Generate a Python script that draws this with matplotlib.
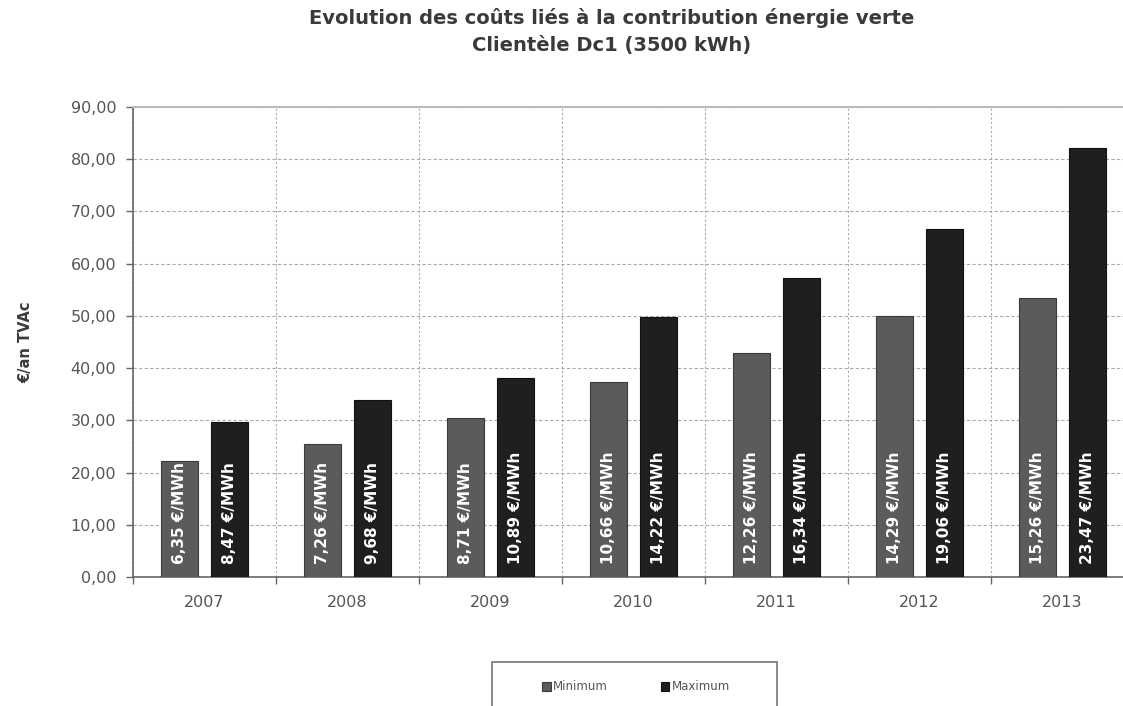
import matplotlib.pyplot as plt
import matplotlib.patches as mpatches
from matplotlib.ticker import FixedLocator, FuncFormatter
import numpy as np

plt.rcParams['font.family'] = ['DejaVu Sans']

years = ['2007', '2008', '2009', '2010', '2011', '2012', '2013']
cost_min = [22.2, 25.4, 30.5, 37.3, 42.9, 50.0, 53.4]
cost_max = [29.6, 33.9, 38.1, 49.8, 57.2, 66.7, 82.1]
price_min = ['6,35', '7,26', '8,71', '10,66', '12,26', '14,29', '15,26']
price_max = ['8,47', '9,68', '10,89', '14,22', '16,34', '19,06', '23,47']

c_min = '#5b5b5b'
c_max = '#1f1f1f'

fig = plt.figure(figsize=(11.23, 7.06), dpi=100)
ax = fig.add_axes([133/1123, 129/706, 1001/1123, 470/706])

x = np.arange(len(years))
w = 0.26
off = 0.175
b1 = ax.bar(x - off, cost_min, w, color=c_min, edgecolor='#3a3a3a', linewidth=0.8, label='Minimum', zorder=3)
b2 = ax.bar(x + off, cost_max, w, color=c_max, edgecolor='#111111', linewidth=0.8, label='Maximum', zorder=3)

for xi, p in zip(x - off, price_min):
    ax.annotate(p + ' €/MWh', (xi, 0), xytext=(0, 9), textcoords='offset points',
                rotation=90, ha='center', va='bottom', color='white',
                fontsize=11, fontweight='bold', zorder=4)
for xi, p in zip(x + off, price_max):
    ax.annotate(p + ' €/MWh', (xi, 0), xytext=(0, 9), textcoords='offset points',
                rotation=90, ha='center', va='bottom', color='white',
                fontsize=11, fontweight='bold', zorder=4)

ax.set_xlim(-0.5, 6.5)
ax.set_ylim(0, 90)
ax.set_yticks(np.arange(0, 91, 10))
ax.yaxis.set_major_formatter(FuncFormatter(lambda v, p: f'{v:.2f}'.replace('.', ',')))
ax.set_xticks(x)
ax.set_xticklabels(years)
ax.xaxis.set_minor_locator(FixedLocator(np.arange(-0.5, 7, 1)))
ax.tick_params(axis='x', which='major', length=0, pad=13, labelsize=11.5, labelcolor='#555555')
ax.tick_params(axis='x', which='minor', length=5, width=1, color='#666666', direction='out')
ax.tick_params(axis='y', length=5, width=1, color='#666666', labelsize=11.5, labelcolor='#555555', pad=7)

ax.grid(axis='y', which='major', linestyle=(0, (3, 2)), color='#aaaaaa', linewidth=0.8, zorder=0)
ax.grid(axis='x', which='minor', linestyle=(0, (2, 2)), color='#aaaaaa', linewidth=0.8, zorder=0)
ax.grid(axis='x', which='major', visible=False)

ax.spines['right'].set_visible(False)
ax.spines['top'].set_color('#bbbbbb')
ax.spines['top'].set_linewidth(1.5)
ax.spines['left'].set_color('#666666')
ax.spines['left'].set_linewidth(1.2)
ax.spines['bottom'].set_color('#666666')
ax.spines['bottom'].set_linewidth(1.2)

ax.set_ylabel('€/an TVAc', fontsize=10.5, fontweight='bold', color='#3a3a3a', labelpad=27)

fig.text(612/1123, 1 - 18/706, 'Evolution des coûts liés à la contribution énergie verte',
         ha='center', va='center', fontsize=14, fontweight='bold', color='#3a3a3a')
fig.text(612/1123, 1 - 46/706, 'Clientèle Dc1 (3500 kWh)',
         ha='center', va='center', fontsize=14, fontweight='bold', color='#3a3a3a')

box = mpatches.Rectangle((492/1123, -0.05), (777 - 492)/1123, 0.05 + (706 - 662)/706,
                         transform=fig.transFigure, facecolor='white', edgecolor='#777777',
                         linewidth=1.2)
fig.patches.append(box)
fig.legend([b1, b2], ['Minimum', 'Maximum'], loc='center', bbox_to_anchor=(636/1123, 1 - 687/706),
           ncol=2, frameon=False, fontsize=8.5, handlelength=0.7, handleheight=0.7,
           handletextpad=0.2, columnspacing=4.5, labelcolor='#555555')

fig.savefig('out.png', dpi=100)
